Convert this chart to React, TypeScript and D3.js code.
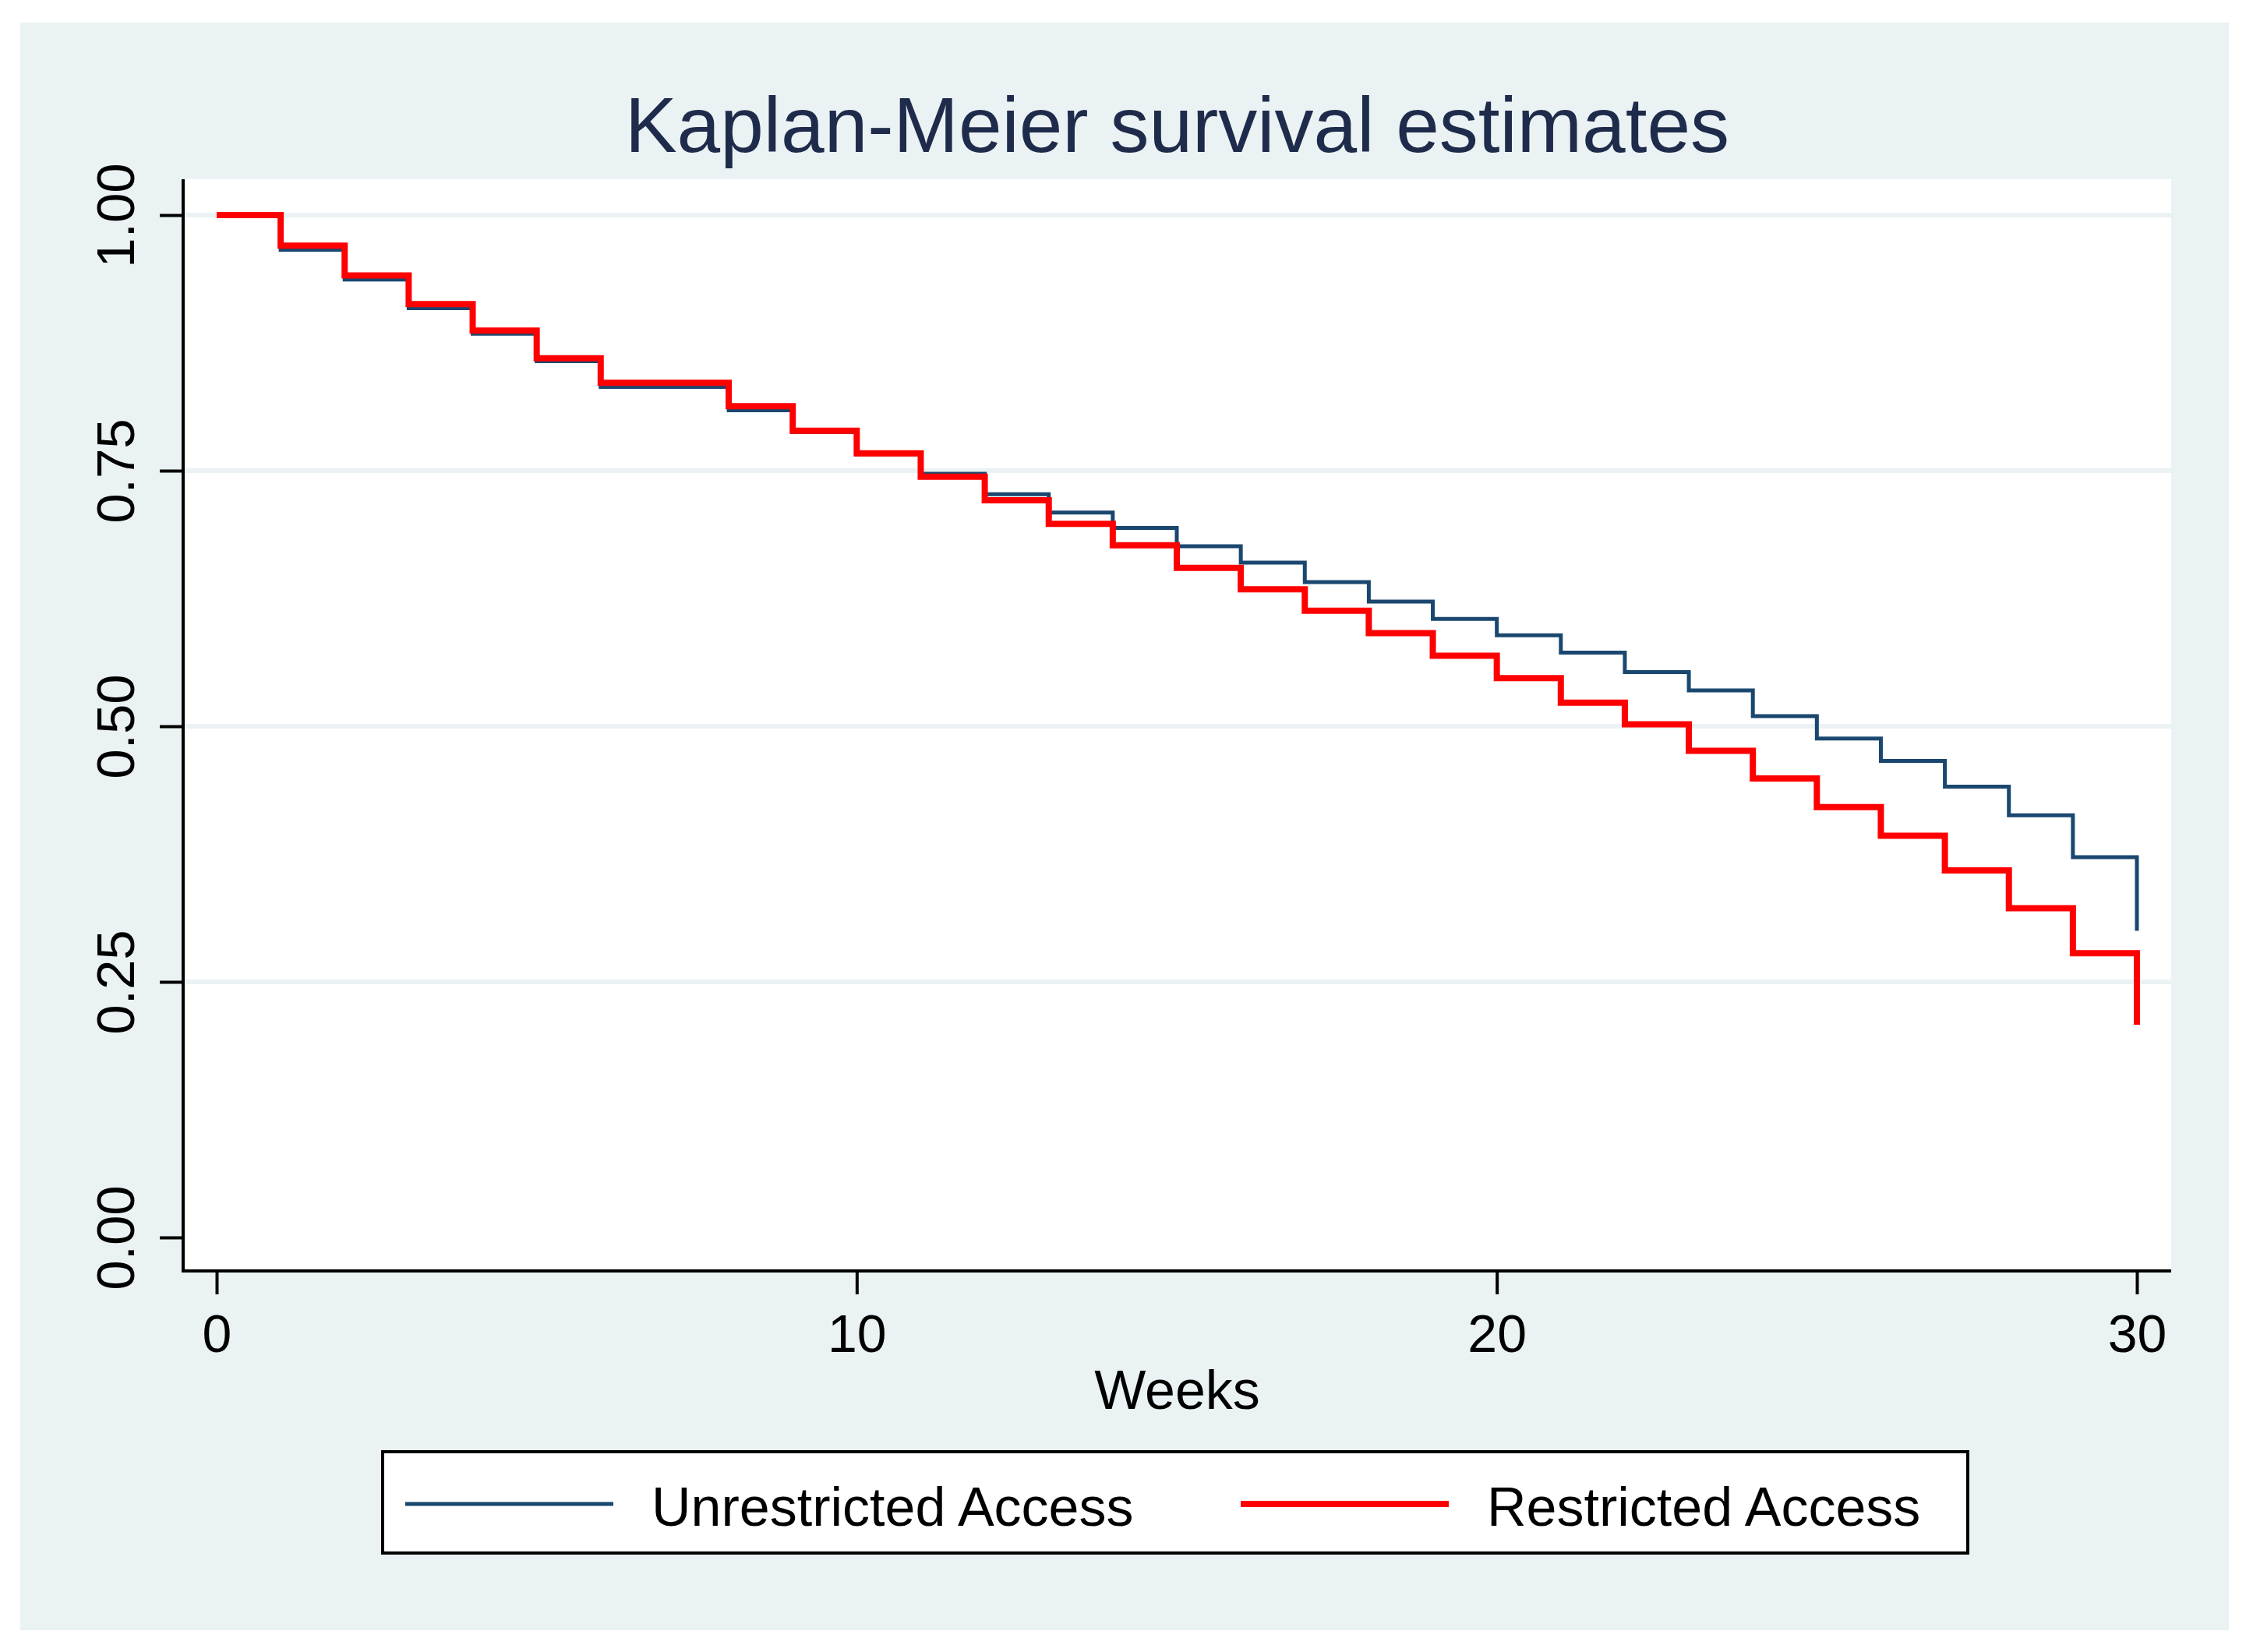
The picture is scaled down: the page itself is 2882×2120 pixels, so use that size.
import { useEffect, useRef } from 'react';
import * as d3 from 'd3';

// weeks since start and the KM estimate at each week
const weeks = [0, 1, 2, 3, 4, 5, 6, 7, 8, 9, 10, 11, 12, 13, 14, 15, 16, 17, 18, 19, 20, 21, 22, 23, 24, 25, 26, 27, 28, 29, 30];
const unrestricted = [1.0, 0.966, 0.937, 0.909, 0.884, 0.857, 0.832, 0.832, 0.809, 0.788, 0.766, 0.747, 0.727, 0.709, 0.694, 0.676, 0.66, 0.641, 0.622, 0.605, 0.589, 0.572, 0.553, 0.535, 0.51, 0.488, 0.466, 0.441, 0.413, 0.372, 0.3];
const restricted = [1.0, 0.97, 0.941, 0.913, 0.887, 0.86, 0.836, 0.836, 0.813, 0.789, 0.767, 0.744, 0.721, 0.698, 0.677, 0.655, 0.634, 0.613, 0.591, 0.569, 0.547, 0.523, 0.502, 0.476, 0.449, 0.421, 0.393, 0.359, 0.322, 0.278, 0.208];

const xTicks = [0, 10, 20, 30];
const yTicks = [0, 0.25, 0.5, 0.75, 1];
const gridTicks = [0.25, 0.5, 0.75, 1];

const seriesNames = ['Unrestricted Access', 'Restricted Access'];
const seriesColors = ['#1A476F', '#FF0000'];
const seriesWidths = [5, 8];

const W = 2882;
const H = 2120;
const FONT = "'Liberation Sans', Arial, Helvetica, sans-serif";

export default function App() {
  const svgRef = useRef<SVGSVGElement>(null);

  useEffect(() => {
    if (!svgRef.current) return;
    document.body.style.margin = '0';

    const svg = d3.select(svgRef.current);
    svg.selectAll('*').remove();

    const plot = { left: 235, right: 2786, top: 230, bottom: 1631 };

    const x = d3.scaleLinear().domain([0, 30]).range([278, 2742]);
    const y = d3.scaleLinear().domain([0, 1]).range([1588, 276]);

    // outer background
    svg.append('rect')
      .attr('x', 0).attr('y', 0).attr('width', W).attr('height', H)
      .attr('fill', '#ffffff');
    svg.append('rect')
      .attr('x', 26).attr('y', 29).attr('width', 2860 - 26).attr('height', 2092 - 29)
      .attr('fill', '#EAF2F3');

    // plot region
    svg.append('rect')
      .attr('x', plot.left).attr('y', plot.top)
      .attr('width', plot.right - plot.left).attr('height', plot.bottom - plot.top)
      .attr('fill', '#ffffff');

    // grid lines
    svg.selectAll('.grid-line')
      .data(gridTicks)
      .enter()
      .append('line')
      .attr('class', 'grid-line')
      .attr('x1', plot.left)
      .attr('x2', plot.right)
      .attr('y1', d => y(d))
      .attr('y2', d => y(d))
      .attr('stroke', '#EAF2F3')
      .attr('stroke-width', 6);

    // survival curves
    const line = d3.line<number>()
      .x((_, i) => x(weeks[i]))
      .y(d => y(d))
      .curve(d3.curveStepAfter);

    [unrestricted, restricted].forEach((s, i) => {
      svg.append('path')
        .datum(s)
        .attr('d', line)
        .attr('fill', 'none')
        .attr('stroke', seriesColors[i])
        .attr('stroke-width', seriesWidths[i])
        .attr('stroke-linejoin', 'miter');
    });

    // Y axis
    const yAxis = svg.append('g')
      .attr('transform', `translate(${plot.left},0)`)
      .call(d3.axisLeft(y).tickValues(yTicks).tickSize(30).tickFormat(d3.format('.2f')));
    yAxis.select('.domain').remove();
    yAxis.selectAll('line').attr('stroke', '#000').attr('stroke-width', 4);
    yAxis.selectAll('text')
      .attr('transform', 'rotate(-90)')
      .attr('x', 0)
      .attr('y', -63)
      .attr('dy', 0)
      .attr('text-anchor', 'middle')
      .style('font-family', FONT)
      .style('font-size', '69px')
      .style('fill', '#000');
    svg.append('line')
      .attr('x1', plot.left).attr('x2', plot.left)
      .attr('y1', plot.top).attr('y2', plot.bottom + 2)
      .attr('stroke', '#000').attr('stroke-width', 4);

    // X axis
    const xAxis = svg.append('g')
      .attr('transform', `translate(0,${plot.bottom})`)
      .call(d3.axisBottom(x).tickValues(xTicks).tickSize(30).tickPadding(26).tickFormat(d3.format('d')));
    xAxis.select('.domain').remove();
    xAxis.selectAll('line').attr('stroke', '#000').attr('stroke-width', 4);
    xAxis.selectAll('text')
      .style('font-family', FONT)
      .style('font-size', '68px')
      .style('fill', '#000');
    svg.append('line')
      .attr('x1', plot.left - 2).attr('x2', plot.right)
      .attr('y1', plot.bottom).attr('y2', plot.bottom)
      .attr('stroke', '#000').attr('stroke-width', 4);

    // axis title
    svg.append('text')
      .attr('x', (plot.left + plot.right) / 2)
      .attr('y', 1808)
      .attr('text-anchor', 'middle')
      .style('font-family', FONT)
      .style('font-size', '70px')
      .style('fill', '#000')
      .text('Weeks');

    // title
    svg.append('text')
      .attr('x', (plot.left + plot.right) / 2)
      .attr('y', 195)
      .attr('text-anchor', 'middle')
      .style('font-family', FONT)
      .style('font-size', '100px')
      .style('fill', '#1E2B4B')
      .text('Kaplan-Meier survival estimates');

    // legend
    const legend = svg.append('g');
    legend.append('rect')
      .attr('x', 491).attr('y', 1863)
      .attr('width', 2525 - 491).attr('height', 1993 - 1863)
      .attr('fill', '#ffffff')
      .attr('stroke', '#000')
      .attr('stroke-width', 4);

    const legendX = [520, 1592];
    seriesNames.forEach((name, i) => {
      legend.append('line')
        .attr('x1', legendX[i]).attr('x2', legendX[i] + 267)
        .attr('y1', 1930).attr('y2', 1930)
        .attr('stroke', seriesColors[i])
        .attr('stroke-width', seriesWidths[i]);
      legend.append('text')
        .attr('x', legendX[i] + 316)
        .attr('y', 1958)
        .style('font-family', FONT)
        .style('font-size', '70px')
        .style('fill', '#000')
        .text(name);
    });
  }, []);

  return (
    <svg
      ref={svgRef}
      width={W}
      height={H}
      style={{ display: 'block', position: 'absolute', left: 0, top: 0 }}
    />
  );
}
